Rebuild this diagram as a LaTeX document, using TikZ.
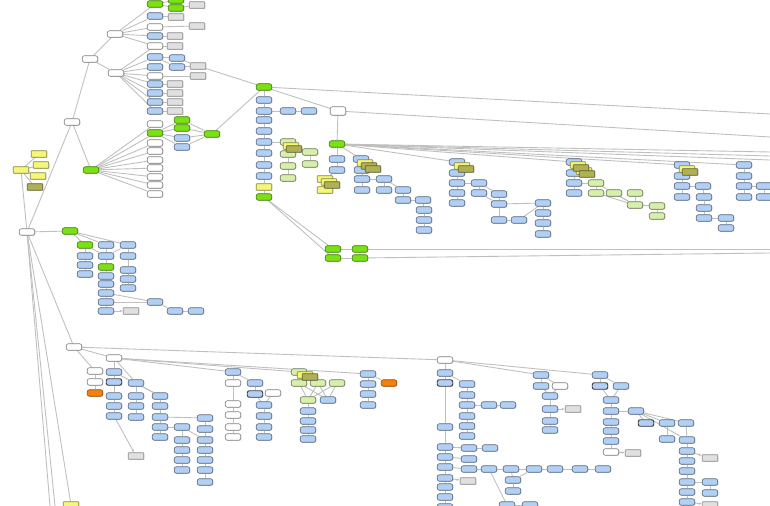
\documentclass[tikz,border=0pt]{standalone}
\usepackage{tikz}
\usetikzlibrary{arrows.meta,shadows,backgrounds}
\definecolor{topicgreen}{RGB}{122,226,20}
\definecolor{itemblue}{RGB}{178,208,245}
\definecolor{memoyellow}{RGB}{246,246,120}
\definecolor{memoolive}{RGB}{176,176,84}
\definecolor{draftgreen}{RGB}{214,240,172}
\definecolor{alertorange}{RGB}{245,128,10}
\tikzset{
  cell/.style={rectangle, rounded corners=1.2pt, minimum width=0.31cm, minimum height=0.13cm, inner sep=0pt, line width=0.35pt,
    drop shadow={shadow xshift=0.4pt, shadow yshift=-0.4pt, opacity=0.3}},
  core/.style={cell, fill=topicgreen, draw=topicgreen!55!black},
  item/.style={cell, fill=itemblue, draw=itemblue!50!black},
  itemd/.style={item, draw=black!75, line width=0.55pt},
  plain/.style={cell, fill=white, draw=black!50},
  leaf/.style={cell, rounded corners=0.3pt, fill=black!12, draw=black!45},
  memo/.style={cell, rounded corners=0.3pt, fill=memoyellow, draw=memoyellow!55!black},
  memod/.style={cell, rounded corners=0.3pt, fill=memoolive, draw=memoolive!55!black},
  draft/.style={cell, fill=draftgreen, draw=draftgreen!50!black},
  alert/.style={cell, fill=alertorange, draw=alertorange!60!black},
  link/.style={draw=black!25, line width=0.5pt},
  arrow/.style={link, -{Latex[length=1.8pt,width=1.5pt]}}
}

\begin{document}
\begin{tikzpicture}[x=0.02cm, y=-0.02cm]
  \useasboundingbox (0,0) rectangle (770,506);

  % white boxes
  \foreach \nm/\x/\y in {root/27/232, act/72/122, a1/90/59, a2/115/34, a3/116/73,
      c3/155/27, c5/155/46, c8/155/76, e1/155/124, e3/155/143, e4/155/151, e5/155/160,
      e6/155/168, e7/155/177, e8/155/185, e9/155/194, w0/74/347, w1/114/358,
      w2/95/371, w3/95/382, z2/233/383, z3/233/404, z4/233/415, z5/233/427, z6/233/437,
      z9/273/393, i0/445/360, b3/560/386, pa10/611/452}
    \node[plain] (\nm) at (\x,\y) {};
  \node[plain, minimum height=0.17cm] (k) at (338,111) {};

  % green topics
  \foreach \nm/\x/\y in {c1/155/4, d1/176/0, d2/176/8, m/91/170, e2/155/133, f1/182/120,
      f2/182/128, g/212/134, h0/264/87, h10/264/197, k0/337/144, u1/333/249, u2/360/249,
      u3/333/258, u4/360/258, v0/70/231, v1/85/245, v8/106/267}
    \node[core] (\nm) at (\x,\y) {};

  % blue items
  \foreach \nm/\x/\y in {c2/155/16, c4/155/36, c6/155/57, c7/155/67, c9/155/84, c10/155/93,
      c11/155/102, c12/155/111, d8/177/58, d9/177/67, f3/182/138, f4/182/147,
      h1/264/100, h2/264/111, h3/264/120, h4/264/131, h5/264/142, h6/264/153, h7/264/165,
      h8/264/176, h2a/288/111, h2b/309/111, k1/337/159, k2/337/170,
      n1/361/159, n2/362/170, n3/362/179, n4/384/179, n5/362/190, n6/384/190, n7/403/190,
      n8/403/200, n9/423/200, n10/424/210, n11/424/220, n12/424/230,
      q1/457/162, q2/457/173, q3/457/183, q4/479/183, q5/457/193, q6/479/193, q7/457/203,
      q8/499/194, q9/499/204, q10/499/220, q11/519/220, q12/543/203, q13/543/213,
      q14/543/223, q15/543/234, r1/574/162, r2/574/173, r3/574/183, r5/574/193,
      s1/682/165, s2/682/176, s3/682/186, s4/703/186, s5/682/197, s6/704/197, s7/704/208,
      s8/704/218, s9/726/218, s10/726/228, t1/744/165, t2/744/176, t3/744/186, t4/764/186,
      t5/744/197, t6/764/197,
      v2/106/245, v3/128/245, v4/85/256, v5/106/256, v6/128/256, v7/85/265, v9/128/270,
      v10/85/274, v11/106/276, v12/128/279, v13/106/284, v14/128/288, v15/106/293,
      v16/106/302, v17/106/311, v19/155/302, v20/175/311, v21/196/311,
      x1/114/372, x3/114/396, x4/114/406, x5/114/416, x7/136/383, x8/136/396,
      x9/136/406, x10/136/417, x11/160/396, x12/160/406, x13/160/417, x14/160/427,
      x15/160/437, x16/182/427, x17/182/440, x18/182/450, x19/182/460, x20/182/470,
      x21/205/418, x22/205/429, x23/205/440, x24/205/450, x25/205/460, x26/205/470,
      x27/205/482, z1/233/372, z7/255/383, z10/264/405, z11/264/416, z12/264/427,
      z13/264/437, o6/328/400, o7/308/411, o8/308/421, o9/308/430, o10/308/439,
      j1/368/374, j3/368/384, j4/368/394, j5/368/405,
      i1/445/373, i3/467/384, i4/467/395, i5/467/405, i6/489/405, i7/508/405,
      i8/467/416, i9/467/426, i10/467/436, i11/445/427, i12/445/447, i13/445/457,
      i14/445/467, i15/445/478, i16/445/487, i17/445/497, i33/445/507, i18/469/448,
      i19/490/448, i20/469/459, i21/469/469, i23/489/469, i24/511/469, i25/534/469,
      i26/555/469, i27/580/469, i28/603/469, i29/513/480, i30/513/491, i31/507/505,
      i32/530/505, b1/541/375, b2/541/386, b4/550/396, b5/550/409, b7/550/421, b8/550/430,
      pa1/600/375, pa3/621/386, pa4/611/400, pa5/611/411, pa6/636/411, pa7/611/422,
      pa8/611/431, pa9/611/441, pb2/667/423, pb3/686/423, pb4/667/439, pb5/687/440,
      pb6/687/451, pb8/687/461, pb9/687/471, pb10/687/482, pb11/710/482, pb12/710/493,
      pb13/687/492, pb14/687/502}
    \node[item] (\nm) at (\x,\y) {};
  \foreach \nm/\x/\y in {x2/114/382, z8/255/394, i2/445/383, pa2/600/386, pb1/646/423}
    \node[itemd] (\nm) at (\x,\y) {};

  % grey leaves
  \foreach \nm/\x/\y in {d3/197/5, d4/176/17, d5/197/26, d6/175/36, d7/175/46, d10/198/66,
      d11/198/76, d12/175/84, d13/175/93, d14/175/102, d15/175/111, v18/131/311,
      x6/136/456, i22/468/481, b6/573/409, pa11/633/453, pb7/710/458, pb15/710/505}
    \node[leaf] (\nm) at (\x,\y) {};

  % light green drafts
  \foreach \nm/\x/\y in {l1/288/142, l2/288/154, l3/310/152, l4/310/164, l5/288/166,
      l6/288/178, r4/596/183, r6/596/193, r7/614/193, r8/635/193, r9/635/205,
      r10/657/206, r11/657/216, o1/299/372, o2/299/383, o3/318/383, o4/337/383, o5/308/400}
    \node[draft] (\nm) at (\x,\y) {};

  % orange
  \node[alert] (w4) at (95,393) {};
  \node[alert] (j2) at (389,383) {};

  % notes
  \foreach \nm/\x/\y in {y0/21/170, y1/39/154, y2/41/165, y3/38/176, ybot/71/505,
      h9/264/187, l1a/291/146, p1/325/179, p1a/329/182, p2/325/190, n1a/365/163,
      q1a/462/166, r1a/578/165, r1c/584/171, s1a/687/169, o1a/305/375}
    \node[memo] (\nm) at (\x,\y) {};
  \foreach \nm/\x/\y in {y4/35/187, l1b/294/149, p1b/332/185, n1b/369/166, n1c/373/169,
      q1b/466/169, r1b/581/168, r1d/587/174, s1b/690/172, o1b/310/377}
    \node[memod] (\nm) at (\x,\y) {};

  % loose ends at the border
  \coordinate (out1) at (770,114);
  \coordinate (out2) at (770,137);
  \coordinate (out3) at (770,152);
  \coordinate (out4) at (770,156);
  \coordinate (out5) at (770,160);
  \coordinate (out6) at (770,249);
  \coordinate (out7) at (770,253);
  \coordinate (bot1) at (50,506);
  \coordinate (bot2) at (55,506);

  \begin{scope}[on background layer]
    \fill[white] (0,0) rectangle (770,506);
    \foreach \a/\b in {root/act, root/y0, root/w0, root/v0, root/ybot, root/bot1, root/bot2,
        y0/y1, y0/y2, y0/y3, y0/y4, act/a1, act/m, a1/a2, a1/a3,
        a2/c1, a2/c2, a2/c3, a2/c4, a2/c5, a3/c5, a3/c6, a3/c7, a3/c8, a3/c9, a3/c10,
        a3/c11, a3/c12, c1/d1, c1/d2, d2/d3, c2/d4, c3/d5, c4/d6, c5/d7, c6/d8, c6/d9,
        d8/d10, d9/d10, c8/d11, c9/d12, c10/d13, c11/d14, c12/d15, d10/h0,
        m/e1, m/e2, m/e3, m/e4, m/e5, m/e6, m/e7, m/e8, m/e9,
        e2/f1, e2/f2, e2/f3, e2/f4, f1/g, f2/g, f3/g, f4/g, g/h0,
        h0/h1, h1/h2, h2/h3, h3/h4, h4/h5, h5/h6, h6/h7, h7/h8, h8/h9, h9/h10,
        h2/h2a, h2a/h2b, h0/k, k/k0, h5/l1, l1/l3, l1/l2, l2/l5, l5/l6, l3/l4,
        k0/k1, k1/k2, k2/p1, p1/p2, k0/n1, n1/n2, n2/n3, n3/n5, n3/n4, n4/n6, n4/n7,
        n7/n8, n8/n9, n9/n10, n10/n11, n11/n12,
        k0/q1, q1/q2, q2/q3, q3/q5, q5/q7, q3/q4, q4/q6, q4/q8, q8/q9, q6/q9, q9/q10,
        q10/q11, q11/q12, q9/q12, q12/q13, q13/q14, q14/q15,
        k0/r1, r1/r2, r2/r3, r3/r5, r3/r4, r4/r6, r4/r9, r6/r9, r7/r9, r8/r9, r9/r10, r10/r11,
        k0/s1, s1/s2, s2/s3, s3/s5, s3/s4, s4/s6, s6/s7, s7/s8, s8/s9, s9/s10,
        k0/t1, t1/t2, t2/t3, t3/t5, t3/t4, t4/t6,
        h10/u1, h10/u3, u1/u2, u3/u4,
        h0/out1, k/out2, k0/out3, k0/out4, k0/out5, u2/out6, u4/out7,
        v0/v1, v0/v2, v0/v3, v1/v4, v4/v7, v7/v10, v1/v5, v3/v5, v2/v5, v5/v8, v8/v11,
        v11/v13, v13/v15, v15/v16, v16/v17, v3/v6, v6/v9, v9/v12, v12/v14, v15/v19,
        v16/v19, v19/v20, v20/v21,
        w0/w1, w0/w2, w2/w3, w3/w4, w0/i0,
        w1/x1, x1/x2, x2/x3, x3/x4, x4/x5, w1/x7, x7/x8, x8/x9, x9/x10, x1/x11, x7/x11,
        x11/x12, x12/x13, x13/x14, x14/x15, x14/x16, x16/x17, x17/x18, x18/x19, x19/x20,
        x13/x21, x21/x22, x22/x23, x23/x24, x24/x25, x25/x26, x26/x27, x16/x23,
        w1/z1, z1/z2, z2/z3, z3/z4, z4/z5, z5/z6, z1/z7, z7/z8, z8/z10, z9/z10, z10/z11,
        z11/z12, z12/z13,
        w1/o1, o1/o2, o2/o5, o2/o6, o3/o5, o3/o6, o4/o5, o4/o6, o5/o7, o7/o8, o8/o9, o9/o10,
        w1/j1, j1/j2, j1/j3, j3/j4, j4/j5,
        i0/i1, i1/i2, i2/i11, i11/i12, i12/i13, i13/i14, i14/i15, i15/i16, i16/i17, i17/i33,
        i1/i3, i3/i4, i4/i5, i5/i8, i8/i9, i9/i10, i5/i6, i6/i7, i12/i18, i18/i19, i13/i20,
        i14/i21, i21/i23, i23/i24, i24/i25, i25/i26, i26/i27, i27/i28, i24/i29, i29/i30,
        i25/i29, i23/i31, i31/i32,
        i0/b1, b1/b2, b1/b3, b2/b4, b3/b4, b4/b5, b5/b7, b7/b8,
        i0/pa1, pa1/pa2, pa2/pa4, pa1/pa3, pa3/pa4, pa4/pa5, pa5/pa7, pa7/pa8, pa8/pa9,
        pa9/pa10, pa5/pa6, pa6/pb1, pa6/pb2, pa6/pb3, pa6/pb5, pb2/pb4, pb3/pb5, pb5/pb6,
        pb6/pb8, pb8/pb9, pb9/pb10, pb10/pb13, pb13/pb14, pb10/pb11, pb11/pb12}
      \draw[link] (\a) -- (\b);
    \foreach \a/\b in {v17/v18, x5/x6, i15/i22, b5/b6, pa10/pa11, pb6/pb7, pb14/pb15}
      \draw[arrow] (\a) -- (\b);
  \end{scope}
\end{tikzpicture}
\end{document}
